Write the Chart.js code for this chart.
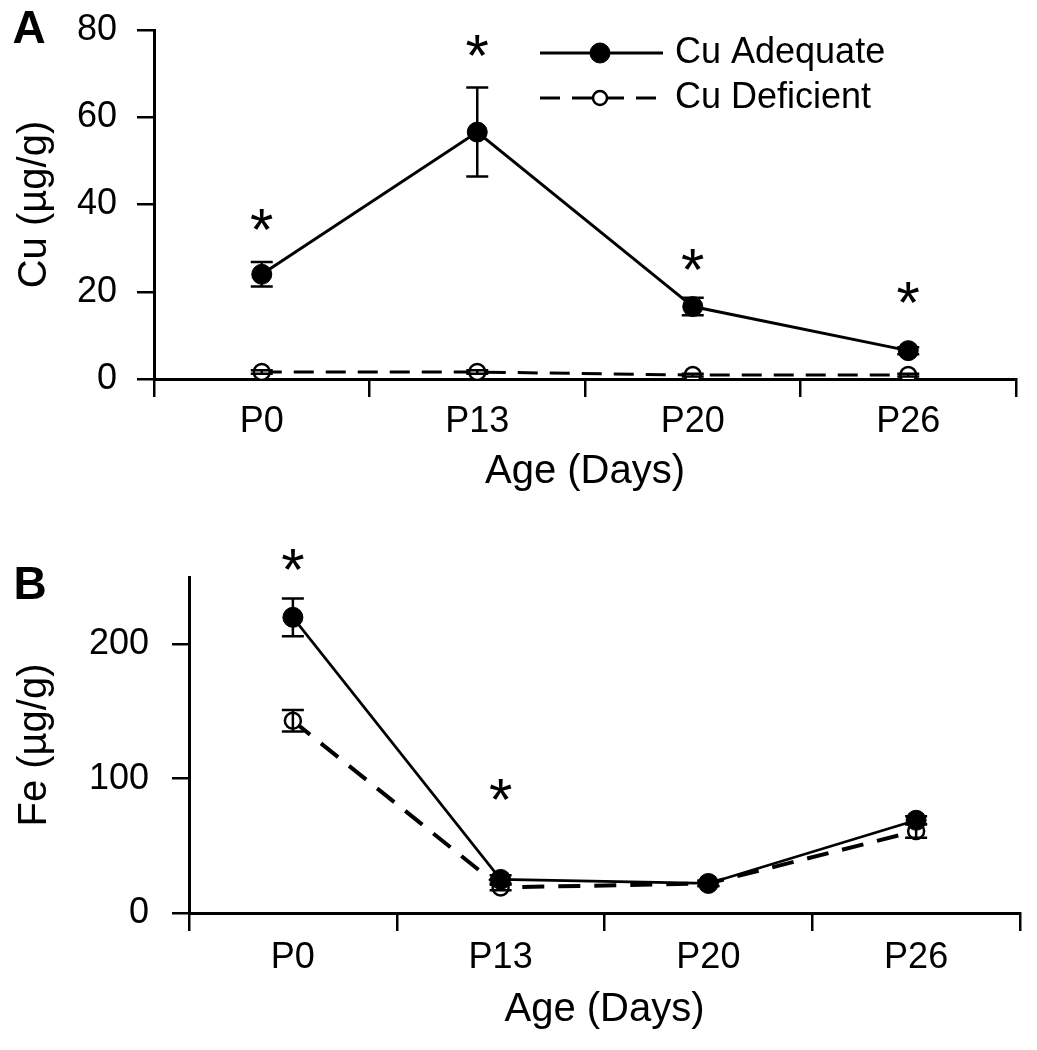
<!DOCTYPE html>
<html>
<head>
<meta charset="utf-8">
<script src="https://cdn.jsdelivr.net/npm/chart.js@4"></script>
<style>
  body { margin: 0; background: #fff; }
  #boxA { position: absolute; left: 0; top: 0; }
  #boxB { position: absolute; left: 0; top: 520px; }
</style>
</head>
<body>
<div id="boxA"><canvas id="graficoA" width="1037" height="500"></canvas></div>
<div id="boxB"><canvas id="graficoB" width="1037" height="530"></canvas></div>
<script>
// Dados
const idades = ["P0", "P13", "P20", "P26"];

const cuAdequado = [24, 56.6, 16.6, 6.5];
const cuAdequadoErro = [2.8, 10.2, 2.0, 0.8];
const cuDeficiente = [1.6, 1.6, 0.9, 0.9];
const cuDeficienteErro = [0.4, 0.4, 0.3, 0.3];
const cuAsterisco = [36, 75.8, 26.8, 19.2];

const feAdequado = [220, 25, 22, 69];
const feAdequadoErro = [14, 3, 2, 3];
const feDeficiente = [143, 19, 22, 61];
const feDeficienteErro = [8, 2, 2, 5];
const feAsterisco = [261, 90, null, null];

const fonte = '"Liberation Sans", Arial, sans-serif';

document.addEventListener("DOMContentLoaded", function () {

    function serie(label, valores, erros, cheio, dash, largura) {
        return {
            label: label,
            data: valores,
            erros: erros,
            borderColor: '#000',
            borderWidth: largura,
            borderDash: dash,
            pointRadius: cheio ? 10 : 8,
            pointBackgroundColor: cheio ? '#000' : '#fff',
            pointBorderColor: '#000',
            pointBorderWidth: cheio ? 1 : 2.5,
            tension: 0,
            fill: false
        };
    }

    // barras de erro desenhadas com as escalas do grafico
    const barrasErro = {
        id: 'barrasErro',
        afterDatasetsDraw(chart) {
            const ctx = chart.ctx;
            const y = chart.scales.y;
            chart.data.datasets.forEach((ds, i) => {
                chart.getDatasetMeta(i).data.forEach((pt, j) => {
                    const e = ds.erros[j];
                    if (!e) return;
                    const topo = y.getPixelForValue(ds.data[j] + e);
                    const base = y.getPixelForValue(ds.data[j] - e);
                    ctx.save();
                    ctx.strokeStyle = '#000';
                    ctx.lineWidth = 2.5;
                    ctx.beginPath();
                    ctx.moveTo(pt.x, topo); ctx.lineTo(pt.x, base);
                    ctx.moveTo(pt.x - 11, topo); ctx.lineTo(pt.x + 11, topo);
                    ctx.moveTo(pt.x - 11, base); ctx.lineTo(pt.x + 11, base);
                    ctx.stroke();
                    ctx.restore();
                });
            });
        }
    };

    function criarAsteriscos(valores) {
        return {
            id: 'asteriscos',
            afterDraw(chart) {
                const ctx = chart.ctx;
                valores.forEach((v, j) => {
                    if (v == null) return;
                    ctx.save();
                    ctx.fillStyle = '#000';
                    ctx.font = '60px ' + fonte;
                    ctx.textAlign = 'center';
                    ctx.textBaseline = 'alphabetic';
                    ctx.fillText('*', chart.scales.x.getPixelForValue(j), chart.scales.y.getPixelForValue(v) + 28);
                    ctx.restore();
                });
            }
        };
    }

    function criarLetra(letra, x, y) {
        return {
            id: 'letra',
            afterDraw(chart) {
                const ctx = chart.ctx;
                ctx.save();
                ctx.fillStyle = '#000';
                ctx.font = 'bold 46px ' + fonte;
                ctx.textAlign = 'center';
                ctx.textBaseline = 'middle';
                ctx.fillText(letra, x, y);
                ctx.restore();
            }
        };
    }

    // legenda com linha + marcador
    const legenda = {
        id: 'legenda',
        afterDraw(chart) {
            const ctx = chart.ctx;
            chart.data.datasets.forEach((ds, i) => {
                const y = 53 + i * 45;
                ctx.save();
                ctx.strokeStyle = '#000';
                ctx.lineWidth = ds.borderWidth;
                ctx.setLineDash(ds.borderDash || []);
                ctx.beginPath(); ctx.moveTo(540, y); ctx.lineTo(663, y); ctx.stroke();
                ctx.setLineDash([]);
                ctx.beginPath();
                ctx.arc(600, y, i === 0 ? 10 : 7, 0, 2 * Math.PI);
                ctx.fillStyle = ds.pointBackgroundColor;
                ctx.fill();
                ctx.lineWidth = ds.pointBorderWidth;
                ctx.stroke();
                ctx.fillStyle = '#000';
                ctx.font = '36px ' + fonte;
                ctx.textBaseline = 'middle';
                ctx.fillText(ds.label, 675, y);
                ctx.restore();
            });
        }
    };

    function eixos(cfg) {
        const tick = { color: '#000', lineWidth: 2.5, drawOnChartArea: false, drawTicks: true };
        return {
            x: {
                type: 'category',
                offset: true,
                grid: Object.assign({ offset: true, tickLength: 18 }, tick),
                border: { color: '#000', width: 3 },
                ticks: { color: '#000', font: { size: 36, family: fonte }, padding: cfg.xPad, maxRotation: 0, autoSkip: false },
                title: { display: true, text: 'Age (Days)', color: '#000', font: { size: 40, family: fonte }, padding: { top: 0, bottom: cfg.xTitulo } },
                afterFit(s) { s.height = cfg.altura; s.paddingLeft = 0; s.paddingRight = 0; }
            },
            y: {
                min: 0,
                max: cfg.max,
                grid: Object.assign({ tickLength: 17 }, tick),
                border: { color: '#000', width: 3 },
                ticks: { color: '#000', font: { size: 36, family: fonte }, stepSize: cfg.passo, padding: cfg.yPad },
                title: { display: true, text: cfg.titulo, color: '#000', font: { size: 40, family: fonte }, padding: { top: 11, bottom: 0 } },
                afterBuildTicks(s) { s.ticks = s.ticks.filter(t => t.value % cfg.passo === 0); },
                afterFit(s) { s.width = cfg.largura; s.paddingTop = 0; s.paddingBottom = 0; }
            }
        };
    }

    // Painel A - Cu
    new Chart(document.getElementById('graficoA').getContext('2d'), {
        type: 'line',
        data: {
            labels: idades,
            datasets: [
                serie('Cu Adequate', cuAdequado, cuAdequadoErro, true, [], 3),
                serie('Cu Deficient', cuDeficiente, cuDeficienteErro, false, [20, 12], 3)
            ]
        },
        options: {
            responsive: false,
            animation: false,
            layout: { padding: { top: 30, right: 21, bottom: 0, left: 0 } },
            plugins: { legend: { display: false }, tooltip: { enabled: false } },
            scales: eixos({ max: 80, passo: 20, titulo: 'Cu (µg/g)', largura: 154, altura: 121, xPad: 3, yPad: 20, xTitulo: 4 })
        },
        plugins: [barrasErro, criarAsteriscos(cuAsterisco), criarLetra('A', 29, 30), legenda]
    });

    // Painel B - Fe
    new Chart(document.getElementById('graficoB').getContext('2d'), {
        type: 'line',
        data: {
            labels: idades,
            datasets: [
                serie('Cu Adequate', feAdequado, feAdequadoErro, true, [], 2.7),
                serie('Cu Deficient', feDeficiente, feDeficienteErro, false, [22, 14], 4)
            ]
        },
        options: {
            responsive: false,
            animation: false,
            layout: { padding: { top: 57, right: 17, bottom: 0, left: 0 } },
            plugins: { legend: { display: false }, tooltip: { enabled: false } },
            scales: eixos({ max: 250, passo: 100, titulo: 'Fe (µg/g)', largura: 189, altura: 137, xPad: 5, yPad: 23, xTitulo: 16 })
        },
        plugins: [barrasErro, criarAsteriscos(feAsterisco), criarLetra('B', 30, 66)]
    });
});
</script>
</body>
</html>
